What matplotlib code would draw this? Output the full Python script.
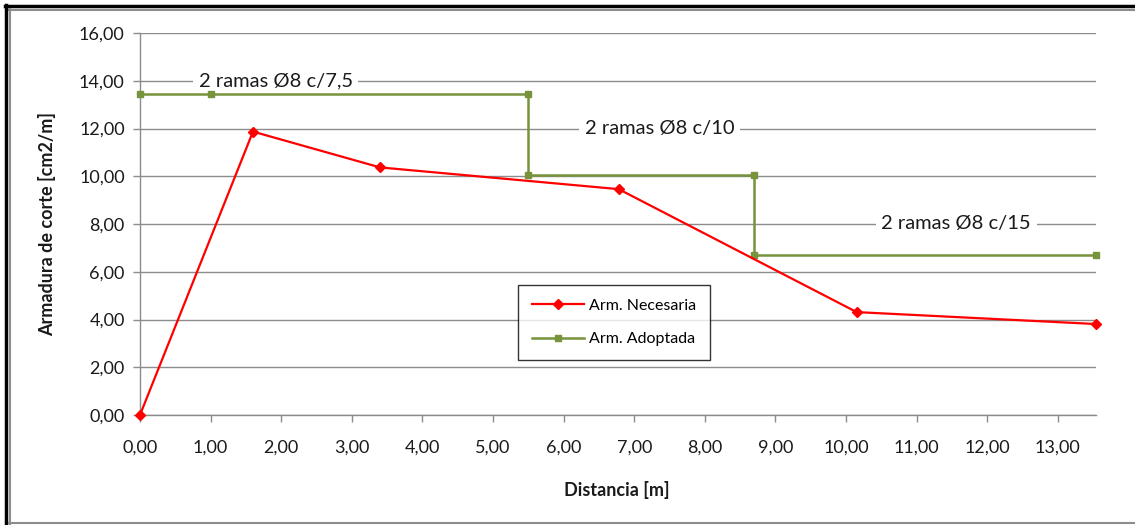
import matplotlib
matplotlib.use("Agg")
import matplotlib.pyplot as plt
from matplotlib.lines import Line2D
from matplotlib.ticker import FuncFormatter

plt.rcParams['font.family'] = ['Lato', 'DejaVu Sans']

# Data
x_nec = [0.0, 1.60, 3.40, 6.78, 10.15, 13.54]
y_nec = [0.0, 11.87, 10.37, 9.46, 4.31, 3.81]

x_adop = [0.0, 1.0, 5.5, 5.5, 8.7, 8.7, 13.54]
y_adop = [13.45, 13.45, 13.45, 10.07, 10.07, 6.71, 6.71]

labels = ["2 ramas Ø8 c/7,5", "2 ramas Ø8 c/10", "2 ramas Ø8 c/15"]
label_pos = [(1.92, 14.0), (7.36, 12.0), (11.56, 8.0)]

W, H = 1135, 525
fig = plt.figure(figsize=(W / 100, H / 100), dpi=100)
ax = fig.add_axes([140 / W, 1 - 415 / H, 956 / W, 382 / H])

grid_c = '#8c8c8c'
ax.plot(x_nec, y_nec, color='#ff0000', lw=1.6, marker='D', ms=5,
        label='Arm. Necesaria', zorder=4, clip_on=False)
ax.plot(x_adop, y_adop, color='#77933c', lw=1.8, marker='s', ms=4.5,
        label='Arm. Adoptada', zorder=3, clip_on=False)

ax.set_xlim(0, 13.54)
ax.set_ylim(0, 16)
ax.set_xticks(range(0, 14))
ax.set_yticks(range(0, 17, 2))
fmt = FuncFormatter(lambda v, p: f"{v:.2f}".replace('.', ','))
ax.xaxis.set_major_formatter(fmt)
ax.yaxis.set_major_formatter(fmt)
ax.grid(axis='y', color=grid_c, lw=1, zorder=0.5)
ax.set_axisbelow(True)
for s in ['top', 'right']:
    ax.spines[s].set_visible(False)
for s in ['left', 'bottom']:
    ax.spines[s].set_color(grid_c)
    ax.spines[s].set_linewidth(1)
ax.tick_params(axis='both', colors=grid_c, labelcolor='#1a1a1a', labelsize=13,
               length=5, width=1)
ax.tick_params(axis='x', pad=13)
ax.tick_params(axis='y', pad=6)

fig.text(617 / W, 1 - 490 / H, 'Distancia [m]', fontsize=13,
         fontweight='bold', ha='center', va='center', color='#1a1a1a')
fig.text(47 / W, 1 - 224 / H, 'Armadura de corte [cm2/m]', fontsize=13,
         fontweight='bold', ha='center', va='center', rotation=90, color='#1a1a1a')

for t, (lx, ly) in zip(labels, label_pos):
    ax.text(lx, ly, t, fontsize=14.5, color='#1a1a1a', ha='center', va='center',
            bbox=dict(facecolor='white', edgecolor='none', pad=4), zorder=2)

leg = ax.legend(loc='upper left', bbox_to_anchor=((518 - 140) / 956, (415 - 285) / 382),
                borderaxespad=0, fancybox=False, frameon=True, fontsize=11.5,
                handlelength=3.3, labelspacing=1.2, borderpad=0.85, handletextpad=0.3)
leg.get_frame().set_edgecolor('black')
leg.get_frame().set_linewidth(1)
leg.set_zorder(6)

# Outer frame
fig.add_artist(Line2D([5 / W, 1], [1 - 5.5 / H, 1 - 5.5 / H], color='black', lw=2.5))
fig.add_artist(Line2D([9 / W, 1], [1 - 9.5 / H, 1 - 9.5 / H], color='#8c8c8c', lw=1.5))
fig.add_artist(Line2D([6 / W, 6 / W], [0, 1 - 5 / H], color='black', lw=2.5))
fig.add_artist(Line2D([9.5 / W, 9.5 / W], [0, 1 - 9 / H], color='#8c8c8c', lw=1.5))
fig.add_artist(Line2D([9 / W, 1], [1 - 523 / H, 1 - 523 / H], color='#8c8c8c', lw=1.5))

fig.savefig('out.png', dpi=100)
